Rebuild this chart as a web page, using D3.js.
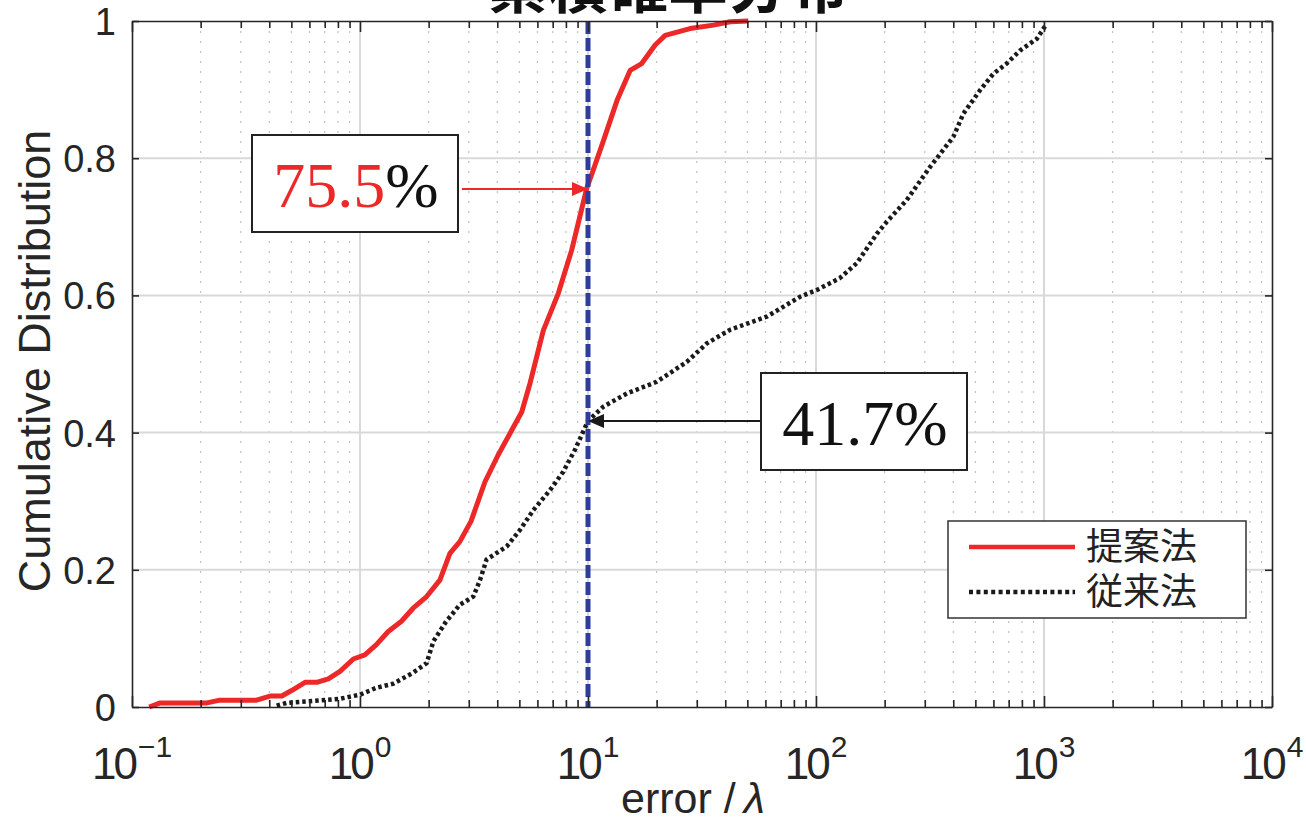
<!DOCTYPE html>
<html>
<head>
<meta charset="utf-8">
<script src="https://cdn.jsdelivr.net/npm/d3@7"></script>
<style>
  body { margin: 0; background: #fff; }
  svg { display: block; }
</style>
</head>
<body>
<svg id="chart" width="1306" height="823"></svg>
<script>
const titleText = "累積確率分布";
const yLabelText = "Cumulative Distribution";
const xLabelText = "error";
const xLabelSymbol = "λ";
const seriesNames = ["提案法", "従来法"];

const xDecades = [0.1, 1, 10, 100, 1000, 10000];
const xExponents = ["\u22121", "0", "1", "2", "3", "4"];
const yTicks = [0, 0.2, 0.4, 0.6, 0.8, 1];
const yTickLabels = ["0", "0.2", "0.4", "0.6", "0.8", "1"];

// 提案法 (proposed)
const proposedX = [0.119, 0.133, 0.213, 0.243, 0.352, 0.403, 0.454, 0.501, 0.574, 0.646,
  0.726, 0.817, 0.935, 1.05, 1.18, 1.33, 1.52, 1.71, 1.96, 2.24,
  2.48, 2.74, 3.07, 3.53, 4.03, 5.12, 5.57, 6.37, 7.41, 8.48,
  9.87, 10.5, 11.7, 13.4, 15.3, 17.2, 19.7, 21.8, 28.0, 35.5, 42.0, 50.5];
const proposedY = [0, 0.006, 0.006, 0.010, 0.010, 0.016, 0.016, 0.024, 0.036, 0.036,
  0.041, 0.052, 0.070, 0.076, 0.091, 0.110, 0.125, 0.144, 0.161, 0.185,
  0.224, 0.241, 0.271, 0.328, 0.367, 0.430, 0.472, 0.549, 0.603, 0.666,
  0.756, 0.781, 0.826, 0.884, 0.928, 0.938, 0.965, 0.979, 0.989, 0.994, 0.999, 1.0];

// 従来法 (conventional)
const conventionalX = [0.431, 0.477, 0.817, 1.0, 1.18, 1.40, 1.71, 1.96, 2.10, 2.38,
  2.74, 3.14, 3.36, 3.59, 4.40, 5.03, 5.76, 6.81, 7.79, 8.77,
  10.0, 11.7, 14.8, 20.0, 27.1, 33.2, 42.0, 60.8, 85.1, 101,
  127, 151, 185, 204, 250, 316, 400, 443, 524, 599,
  686, 785, 930, 1028];
const conventionalY = [0.002, 0.006, 0.012, 0.018, 0.028, 0.034, 0.050, 0.064, 0.096, 0.124,
  0.149, 0.161, 0.185, 0.215, 0.234, 0.258, 0.287, 0.316, 0.343, 0.375,
  0.417, 0.438, 0.457, 0.474, 0.503, 0.530, 0.550, 0.569, 0.598, 0.608,
  0.625, 0.647, 0.690, 0.707, 0.739, 0.787, 0.831, 0.865, 0.899, 0.923,
  0.938, 0.957, 0.974, 0.996];

const markerX = 10;
const markerValues = [0.755, 0.417];
const markerLabels = ["75.5", "41.7"];

const red = "#ec2828";
const dark = "#1a1a1a";
const blue = "#2e3c9c";
const sans = "'Liberation Sans', Arial, sans-serif";
const serif = "'Liberation Serif', 'Times New Roman', serif";
const cjk = "'Noto Sans CJK JP', 'Noto Sans CJK SC', sans-serif";

const svg = d3.select("#chart");

const x = d3.scaleLog().domain([0.1, 10000]).range([132, 1272]);
const y = d3.scaleLinear().domain([0, 1]).range([707, 21]);

// minor tick positions 2..9 inside each decade
const xMinor = [];
xDecades.slice(0, -1).forEach(d => {
  for (let k = 2; k <= 9; k++) xMinor.push(d * k);
});

// grid
const grid = svg.append("g");
grid.selectAll(".minor")
  .data(xMinor)
  .enter()
  .append("line")
  .attr("x1", d => x(d)).attr("x2", d => x(d))
  .attr("y1", y(1)).attr("y2", y(0))
  .attr("stroke", "#c4c4c4")
  .attr("stroke-width", 1.3)
  .attr("stroke-dasharray", "2,8");
grid.selectAll(".xmajor")
  .data(xDecades.slice(1, -1))
  .enter()
  .append("line")
  .attr("x1", d => x(d)).attr("x2", d => x(d))
  .attr("y1", y(1)).attr("y2", y(0))
  .attr("stroke", "#d9d9d9")
  .attr("stroke-width", 2);
grid.selectAll(".ymajor")
  .data(yTicks.slice(1, -1))
  .enter()
  .append("line")
  .attr("x1", x(0.1)).attr("x2", x(10000))
  .attr("y1", d => y(d)).attr("y2", d => y(d))
  .attr("stroke", "#d9d9d9")
  .attr("stroke-width", 2);

// curves
const line = d3.line()
  .x(d => x(d[0]))
  .y(d => y(d[1]));

svg.append("path")
  .datum(conventionalX.map((v, i) => [v, conventionalY[i]]))
  .attr("d", line)
  .attr("fill", "none")
  .attr("stroke", dark)
  .attr("stroke-width", 4.5)
  .attr("stroke-dasharray", "3.5,3");

svg.append("path")
  .datum(proposedX.map((v, i) => [v, proposedY[i]]))
  .attr("d", line)
  .attr("fill", "none")
  .attr("stroke", red)
  .attr("stroke-width", 5)
  .attr("stroke-linejoin", "round");

// vertical marker
svg.append("line")
  .attr("x1", x(markerX)).attr("x2", x(markerX))
  .attr("y1", y(1)).attr("y2", y(0))
  .attr("stroke", blue)
  .attr("stroke-width", 5)
  .attr("stroke-dasharray", "13,4");

// axes
function styleAxis(g) {
  g.select(".domain").attr("stroke", "#262626").attr("stroke-width", 1.6);
  g.selectAll(".tick line").attr("stroke", "#262626").attr("stroke-width", 1.6);
  g.selectAll(".tick text").remove();
}
svg.append("g")
  .attr("transform", `translate(0,${y(0)})`)
  .call(d3.axisBottom(x).tickValues(xDecades).tickSize(-11).tickSizeOuter(0).tickFormat(""))
  .call(styleAxis);
svg.append("g")
  .attr("transform", `translate(0,${y(0)})`)
  .call(d3.axisBottom(x).tickValues(xMinor).tickSize(-7).tickFormat(""))
  .call(styleAxis)
  .call(g => g.select(".domain").remove());
svg.append("g")
  .attr("transform", `translate(0,${y(1)})`)
  .call(d3.axisTop(x).tickValues(xDecades).tickSize(-11).tickSizeOuter(0).tickFormat(""))
  .call(styleAxis);
svg.append("g")
  .attr("transform", `translate(0,${y(1)})`)
  .call(d3.axisTop(x).tickValues(xMinor).tickSize(-7).tickFormat(""))
  .call(styleAxis)
  .call(g => g.select(".domain").remove());
svg.append("g")
  .attr("transform", `translate(${x(0.1)},0)`)
  .call(d3.axisLeft(y).tickValues(yTicks).tickSize(-7).tickSizeOuter(0).tickFormat(""))
  .call(styleAxis);
svg.append("g")
  .attr("transform", `translate(${x(10000)},0)`)
  .call(d3.axisRight(y).tickValues(yTicks).tickSize(-7).tickSizeOuter(0).tickFormat(""))
  .call(styleAxis);

// tick labels
const xLab = svg.append("g")
  .selectAll("text")
  .data(xDecades)
  .enter()
  .append("text")
  .attr("x", d => x(d))
  .attr("y", 779)
  .attr("text-anchor", "middle")
  .attr("font-family", sans)
  .attr("fill", "#262626");
xLab.append("tspan")
  .attr("font-size", 44)
  .attr("letter-spacing", -3)
  .text("10");
xLab.append("tspan")
  .attr("font-size", 30)
  .attr("dy", -22)
  .attr("dx", 3)
  .text((d, i) => xExponents[i]);

svg.append("g")
  .selectAll("text")
  .data(yTicks)
  .enter()
  .append("text")
  .attr("x", 116)
  .attr("y", d => y(d) + 14)
  .attr("text-anchor", "end")
  .attr("font-family", sans)
  .attr("font-size", 38)
  .attr("fill", "#262626")
  .text((d, i) => yTickLabels[i]);

// axis titles
svg.append("text")
  .attr("transform", "translate(50,361) rotate(-90)")
  .attr("text-anchor", "middle")
  .attr("font-family", sans)
  .attr("font-size", 45)
  .attr("fill", "#262626")
  .text(yLabelText);

const xt = svg.append("text")
  .attr("x", 621)
  .attr("y", 813)
  .attr("font-family", sans)
  .attr("font-size", 43)
  .attr("fill", "#262626");
xt.append("tspan").text(xLabelText);
xt.append("tspan").attr("dx", 12).attr("font-weight", 300).text("/");
xt.append("tspan")
  .attr("dx", 8)
  .attr("font-style", "italic")
  .text(xLabelSymbol);

// title (mostly cut off at the top edge)
svg.append("text")
  .attr("x", 668)
  .attr("y", 8)
  .attr("text-anchor", "middle")
  .attr("font-family", cjk)
  .attr("font-weight", "bold")
  .attr("font-size", 60)
  .attr("fill", "#111")
  .text(titleText);

// annotation boxes with arrows
const boxes = [
  { left: 252, top: 135, color: red, value: markerValues[0], label: markerLabels[0], side: "left" },
  { left: 761, top: 373, color: dark, value: markerValues[1], label: markerLabels[1], side: "right" }
];
boxes.forEach(b => {
  const w = 206, h = 97;
  const ay = y(b.value);
  const ax = x(markerX);
  const startX = b.side === "left" ? b.left + w + 4 : b.left;
  const dir = b.side === "left" ? -1 : 1;
  svg.append("line")
    .attr("x1", startX).attr("x2", ax + dir * 10)
    .attr("y1", ay).attr("y2", ay)
    .attr("stroke", b.color)
    .attr("stroke-width", 2);
  svg.append("path")
    .attr("d", `M${ax},${ay} L${ax + dir * 16},${ay - 7} L${ax + dir * 16},${ay + 7} Z`)
    .attr("fill", b.color);
  svg.append("rect")
    .attr("x", b.left).attr("y", b.top)
    .attr("width", w).attr("height", h)
    .attr("fill", "#fff")
    .attr("stroke", "#222")
    .attr("stroke-width", 2);
  const t = svg.append("text")
    .attr("x", b.left + w / 2 + 1)
    .attr("y", b.top + 72)
    .attr("text-anchor", "middle")
    .attr("font-family", serif)
    .attr("font-size", 64);
  t.append("tspan").attr("fill", b.color === red ? red : "#111").text(b.label);
  t.append("tspan").attr("fill", "#111").text("%");
});

// legend
const legend = svg.append("g").attr("transform", "translate(948,521)");
legend.append("rect")
  .attr("width", 298).attr("height", 97)
  .attr("fill", "#fff")
  .attr("stroke", "#333")
  .attr("stroke-width", 1.5);
const legendStyles = [
  { color: red, width: 4.5, dash: null, y: 26 },
  { color: dark, width: 4.5, dash: "4,3.4", y: 71 }
];
legendStyles.forEach((s, i) => {
  legend.append("line")
    .attr("x1", 21).attr("x2", 127)
    .attr("y1", s.y).attr("y2", s.y)
    .attr("stroke", s.color)
    .attr("stroke-width", s.width)
    .attr("stroke-dasharray", s.dash);
  legend.append("text")
    .attr("x", 138)
    .attr("y", s.y + 13)
    .attr("font-family", cjk)
    .attr("font-size", 37)
    .attr("fill", "#222")
    .text(seriesNames[i]);
});
</script>
</body>
</html>
